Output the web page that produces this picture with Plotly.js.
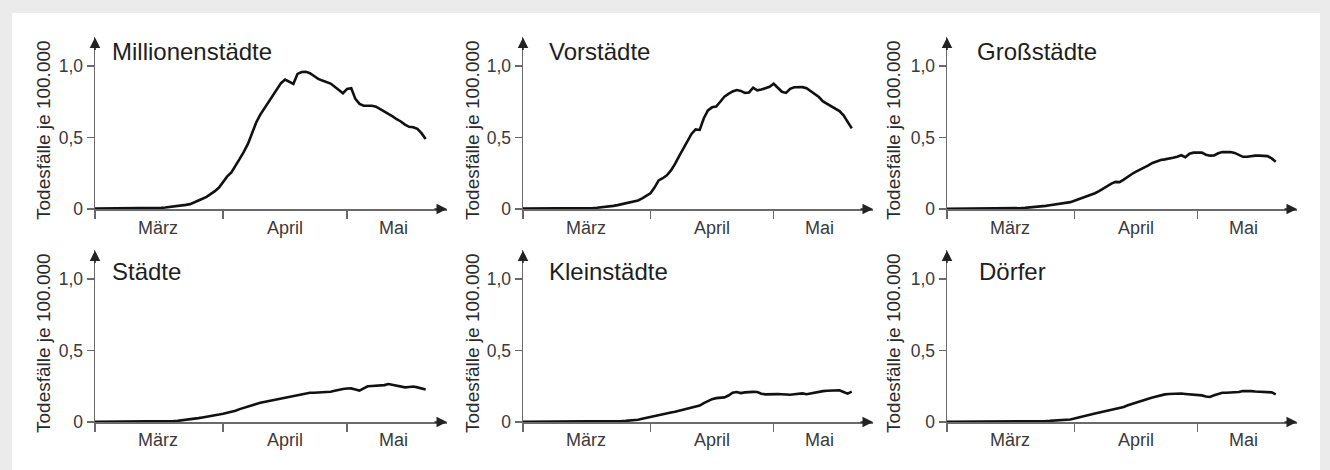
<!DOCTYPE html>
<html>
<head>
<meta charset="utf-8">
<script src="https://cdn.plot.ly/plotly-3.0.1.min.js"></script>
<style>html,body{margin:0;padding:0;background:#ebebeb;}#chart{width:1330px;height:470px;}</style>
</head>
<body>
<div id="chart"></div>
<script>
// ---------- DATA ----------
const dates = [
 '2020-03-01','2020-03-02','2020-03-03','2020-03-04','2020-03-05','2020-03-06','2020-03-07','2020-03-08','2020-03-09','2020-03-10',
 '2020-03-11','2020-03-12','2020-03-13','2020-03-14','2020-03-15','2020-03-16','2020-03-17','2020-03-18','2020-03-19','2020-03-20',
 '2020-03-21','2020-03-22','2020-03-23','2020-03-24','2020-03-25','2020-03-26','2020-03-27','2020-03-28','2020-03-29','2020-03-30','2020-03-31',
 '2020-04-01','2020-04-02','2020-04-03','2020-04-04','2020-04-05','2020-04-06','2020-04-07','2020-04-08','2020-04-09','2020-04-10',
 '2020-04-11','2020-04-12','2020-04-13','2020-04-14','2020-04-15','2020-04-16','2020-04-17','2020-04-18','2020-04-19','2020-04-20',
 '2020-04-21','2020-04-22','2020-04-23','2020-04-24','2020-04-25','2020-04-26','2020-04-27','2020-04-28','2020-04-29','2020-04-30',
 '2020-05-01','2020-05-02','2020-05-03','2020-05-04','2020-05-05','2020-05-06','2020-05-07','2020-05-08','2020-05-09','2020-05-10',
 '2020-05-11','2020-05-12','2020-05-13','2020-05-14','2020-05-15','2020-05-16','2020-05-17','2020-05-18','2020-05-19','2020-05-20'
];

const panelTitles = ['Millionenstädte','Vorstädte','Großstädte','Städte','Kleinstädte','Dörfer'];
const yAxisTitle = 'Todesfälle je 100.000';
const monthLabels = ['März','April','Mai'];
const monthStarts = ['2020-03-01','2020-04-01','2020-05-01'];
const monthLabelAt = ['2020-03-16 07:00','2020-04-16 00:00','2020-05-12 06:00'];
const yTickVals = [0, 0.5, 1.0];
const yTickText = ['0','0,5','1,0'];

const millionenstaedte = [
 0.003,0.003,0.003,0.003,0.003,0.003,0.003,0.003,0.003,0.003,0.003,0.003,0.003,
 0.004,0.005,0.006,0.008,0.010,0.013,0.016,0.020,0.024,0.029,0.034,0.045,0.058,0.072,0.085,0.102,0.125,0.150,
 0.190,0.228,0.255,0.300,0.350,0.400,0.455,0.530,0.605,0.660,0.705,0.750,0.790,0.837,0.880,0.905,0.890,0.875,
 0.945,0.958,0.960,0.950,0.930,0.910,0.898,0.890,0.877,0.855,0.835,0.810,
 0.840,0.845,0.770,0.735,0.722,0.724,0.722,0.716,0.700,0.680,0.665,0.648,0.628,0.612,0.590,0.575,0.572,0.560,0.530,0.490
];
const vorstaedte = [
 0.003,0.003,0.003,0.003,0.003,0.003,0.003,0.003,0.003,0.003,0.003,0.003,0.003,0.003,
 0.004,0.005,0.006,0.007,0.009,0.011,0.014,0.018,0.022,0.027,0.033,0.040,0.046,0.052,0.060,0.074,0.090,
 0.110,0.150,0.200,0.215,0.235,0.270,0.315,0.370,0.420,0.475,0.525,0.557,0.553,0.635,0.690,0.711,0.716,0.750,
 0.785,0.805,0.822,0.832,0.826,0.812,0.815,0.848,0.830,0.835,0.843,0.855,
 0.876,0.850,0.820,0.812,0.840,0.851,0.851,0.852,0.845,0.825,0.805,0.783,0.752,0.735,0.720,0.705,0.685,0.655,0.610,0.564
];
const grossstaedte = [
 0.002,0.002,0.002,0.002,0.002,0.002,0.002,0.002,0.002,0.002,0.002,0.002,0.002,0.002,0.002,
 0.003,0.004,0.005,0.006,0.008,0.010,0.012,0.015,0.018,0.022,0.026,0.030,0.034,0.037,0.041,0.048,
 0.058,0.068,0.078,0.087,0.098,0.110,0.125,0.143,0.163,0.178,0.190,0.188,0.205,0.228,0.245,0.262,0.276,0.288,
 0.305,0.322,0.335,0.343,0.347,0.350,0.358,0.366,0.376,0.362,0.386,0.394,
 0.397,0.395,0.380,0.373,0.375,0.390,0.398,0.400,0.398,0.392,0.380,0.365,0.365,0.370,0.373,0.373,0.373,0.370,0.354,0.331
];
const staedte = [
 0.002,0.002,0.002,0.002,0.002,0.002,0.002,0.002,0.002,0.002,0.002,0.002,0.002,0.002,0.002,0.002,0.002,
 0.003,0.004,0.006,0.008,0.011,0.015,0.019,0.023,0.027,0.032,0.036,0.040,0.046,0.052,
 0.058,0.064,0.070,0.079,0.090,0.100,0.110,0.118,0.126,0.134,0.140,0.145,0.152,0.158,0.165,0.173,0.180,0.186,
 0.192,0.198,0.204,0.205,0.205,0.206,0.207,0.210,0.212,0.218,0.226,0.231,
 0.234,0.235,0.228,0.220,0.235,0.250,0.252,0.253,0.254,0.258,0.265,0.258,0.254,0.248,0.242,0.245,0.248,0.242,0.236,0.228
];
const kleinstaedte = [
 0.002,0.002,0.002,0.002,0.002,0.002,0.002,0.002,0.002,0.002,0.002,0.002,0.002,0.002,0.002,0.002,0.002,0.002,0.002,0.002,
 0.003,0.004,0.005,0.006,0.007,0.008,0.010,0.013,0.016,0.022,0.029,
 0.036,0.042,0.048,0.054,0.060,0.066,0.071,0.078,0.087,0.097,0.104,0.106,0.115,0.132,0.148,0.160,0.167,0.170,
 0.172,0.185,0.205,0.210,0.202,0.207,0.210,0.211,0.210,0.198,0.193,0.195,
 0.196,0.195,0.194,0.192,0.191,0.194,0.198,0.200,0.194,0.200,0.208,0.213,0.216,0.219,0.221,0.223,0.222,0.210,0.198,0.212
];
const doerfer = [
 0.002,0.002,0.002,0.002,0.002,0.002,0.002,0.002,0.002,0.002,0.002,0.002,0.002,0.002,0.002,0.002,0.002,0.002,0.002,0.002,
 0.003,0.004,0.005,0.006,0.007,0.008,0.009,0.011,0.013,0.015,0.018,
 0.024,0.030,0.037,0.045,0.053,0.060,0.066,0.072,0.078,0.083,0.089,0.095,0.105,0.117,0.127,0.137,0.146,0.155,
 0.163,0.171,0.180,0.187,0.193,0.196,0.198,0.200,0.199,0.196,0.193,0.191,
 0.190,0.186,0.178,0.175,0.187,0.198,0.205,0.205,0.205,0.205,0.210,0.217,0.219,0.216,0.213,0.212,0.212,0.212,0.207,0.193
];
const seriesList = [millionenstaedte, vorstaedte, grossstaedte, staedte, kleinstaedte, doerfer];

// ---------- LAYOUT GEOMETRY (pixels) ----------
const W = 1330, H = 470;
const colX = [[95, 447], [523, 873], [947, 1297]];
const rowY = [[37.4, 209], [250.4, 422]];
const titleXpx = [110, 547, 975, 110, 547, 977];
const titleYpx = [52, 271];
const yTitleXpx = [43, 472, 893];
const yTitleYpx = [130, 343];
const monthLabelYpx = [228, 440];
const xRange = ['2020-03-01', '2020-05-25 04:00'];
const yRange = [0, 1.2];

const FONT = 'Liberation Sans, Arial, Helvetica, sans-serif';
const AXIS_COLOR = '#6a6a6a';
const px2x = p => p / W;
const px2y = p => 1 - p / H;

const traces = [];
const layout = {
  width: W, height: H,
  margin: {l: 0, r: 0, t: 0, b: 0, pad: 0},
  paper_bgcolor: '#ebebeb',
  plot_bgcolor: '#ffffff',
  showlegend: false,
  font: {family: FONT, color: '#333'},
  annotations: [],
  shapes: [{
    type: 'rect', xref: 'paper', yref: 'paper', layer: 'below',
    x0: px2x(12), x1: px2x(1320), y0: 0, y1: px2y(13),
    fillcolor: '#ffffff', line: {width: 0}
  }]
};

for (let i = 0; i < 6; i++) {
  const col = i % 3, row = Math.floor(i / 3);
  const sfx = i === 0 ? '' : String(i + 1);
  const xa = 'x' + sfx, ya = 'y' + sfx;

  traces.push({
    type: 'scatter', mode: 'lines',
    x: dates, y: seriesList[i],
    xaxis: xa, yaxis: ya,
    line: {color: '#111111', width: 2.6},
    hoverinfo: 'skip'
  });

  layout['xaxis' + sfx] = {
    type: 'date', domain: [px2x(colX[col][0]), px2x(colX[col][1])],
    range: xRange, anchor: ya, fixedrange: true,
    showline: true, linecolor: AXIS_COLOR, linewidth: 1.5,
    ticks: 'outside', ticklen: 8, tickwidth: 1.5, tickcolor: AXIS_COLOR,
    tickmode: 'array', tickvals: monthStarts, ticktext: ['', '', ''],
    showgrid: false, zeroline: false
  };
  layout['yaxis' + sfx] = {
    domain: [px2y(rowY[row][1]), px2y(rowY[row][0])],
    range: yRange, anchor: xa, fixedrange: true,
    showline: true, linecolor: AXIS_COLOR, linewidth: 1.5,
    ticks: 'outside', ticklen: 7, tickwidth: 1.5, tickcolor: AXIS_COLOR,
    tickmode: 'array', tickvals: yTickVals, ticktext: yTickText,
    tickfont: {family: FONT, size: 17.5, color: '#3a3a3a'},
    showgrid: false, zeroline: false
  };

  // axis arrow heads
  layout.annotations.push({
    xref: xa, yref: ya, x: xRange[1], y: 0, ax: -14, ay: 0,
    showarrow: true, arrowhead: 2, arrowsize: 1.4, arrowwidth: 1.5,
    arrowcolor: '#222', text: '', standoff: 0
  });
  layout.annotations.push({
    xref: xa, yref: ya, x: xRange[0], y: yRange[1], ax: 0, ay: 14,
    showarrow: true, arrowhead: 2, arrowsize: 1.4, arrowwidth: 1.5,
    arrowcolor: '#222', text: '', standoff: 0
  });

  // panel title
  layout.annotations.push({
    xref: 'paper', yref: 'paper', x: px2x(titleXpx[i]), y: px2y(titleYpx[row]),
    xanchor: 'left', yanchor: 'middle', showarrow: false,
    text: panelTitles[i], font: {family: FONT, size: 24, color: '#1e1e1e'}
  });

  // y axis title
  layout.annotations.push({
    xref: 'paper', yref: 'paper', x: px2x(yTitleXpx[col]), y: px2y(yTitleYpx[row]),
    xanchor: 'center', yanchor: 'middle', showarrow: false, textangle: -90,
    text: yAxisTitle, font: {family: FONT, size: 19, color: '#2a2a2a'}
  });

  // month labels
  for (let m = 0; m < monthLabels.length; m++) {
    layout.annotations.push({
      xref: xa, yref: 'paper', x: monthLabelAt[m], y: px2y(monthLabelYpx[row]),
      xanchor: 'center', yanchor: 'middle', showarrow: false,
      text: monthLabels[m], font: {family: FONT, size: 18, color: '#3a3a3a'}
    });
  }
}

Plotly.newPlot('chart', traces, layout, {staticPlot: true, displayModeBar: false});
</script>
</body>
</html>
